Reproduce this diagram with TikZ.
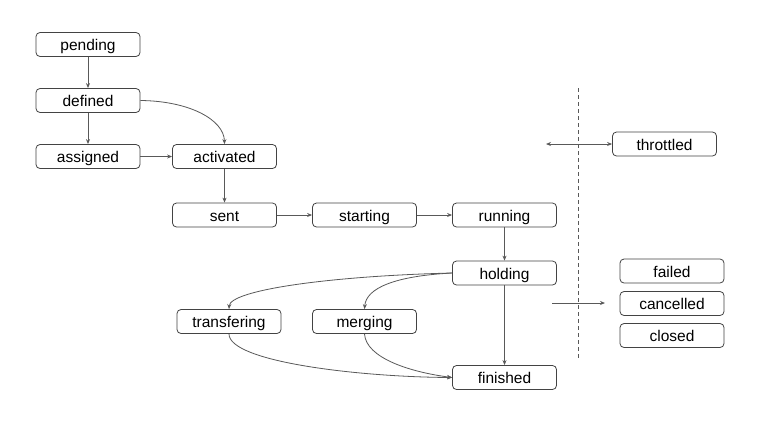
\documentclass[tikz,border=0pt]{standalone}
\usepackage{fontspec}
\setmainfont{Liberation Sans}
\usetikzlibrary{arrows.meta}
\definecolor{edge}{HTML}{595959}
\definecolor{boxc}{HTML}{434343}
\tikzset{
  state/.style={draw=boxc, line width=0.8pt, rounded corners=4pt, minimum width=104pt, minimum height=24pt, inner sep=0pt, text height=12pt, text depth=0pt, font=\fontsize{15.5}{17}\selectfont, text=black},
  conn/.style={draw=edge, line width=0.8pt, -{Stealth[length=5pt,width=4pt]}},
}
\begin{document}
\begin{tikzpicture}[x=1pt,y=-1pt]
\useasboundingbox (0,0) rectangle (760,421);
\fill[white] (0,0) rectangle (760,421);
\node[state] (pending) at (88,44.5) {pending};
\node[state] (defined) at (88,100.5) {defined};
\node[state] (assigned) at (88,156.5) {assigned};
\node[state] (activated) at (224.5,156.5) {activated};
\node[state] (sent) at (224.5,215) {sent};
\node[state] (starting) at (364.5,215) {starting};
\node[state] (running) at (504.5,215) {running};
\node[state] (holding) at (504.5,273) {holding};
\node[state] (transfering) at (229,321.5) {transfering};
\node[state] (merging) at (364.5,321.5) {merging};
\node[state] (finished) at (504.5,377.5) {finished};
\node[state] (throttled) at (664.5,144) {throttled};
\node[state] (failed) at (672,271) {failed};
\node[state] (cancelled) at (672,303.5) {cancelled};
\node[state] (closed) at (672,335.5) {closed};
\coordinate (thl) at (546,144);
\coordinate (cal) at (552,303);
\coordinate (car) at (605,303);
\coordinate (dtop) at (578,88);
\coordinate (dbot) at (578,358);
\draw[draw=edge, line width=0.8pt, dash pattern=on 4pt off 3pt] (dtop) -- (dbot);
\draw[conn] (pending) -- (defined);
\draw[conn] (defined) -- (assigned);
\draw[conn] (assigned) -- (activated);
\draw[conn] (defined.east) .. controls (190,101) and (224,120) .. (activated.north);
\draw[conn] (activated) -- (sent);
\draw[conn] (sent) -- (starting);
\draw[conn] (starting) -- (running);
\draw[conn] (running) -- (holding);
\draw[conn] (holding) -- (finished);
\draw[conn] (holding.west) .. controls (330,276) and (230,290) .. (transfering.north);
\draw[conn] (holding.west) .. controls (395,276) and (366,288) .. (merging.north);
\draw[conn] (transfering.south) .. controls (229,362) and (360,377) .. (finished.west);
\draw[conn] (merging.south) .. controls (366,358) and (410,372) .. (finished.west);
\draw[conn, {Stealth[length=5pt,width=4pt]}-{Stealth[length=5pt,width=4pt]}] (thl) -- (throttled);
\draw[conn] (cal) -- (car);
\end{tikzpicture}
\end{document}
